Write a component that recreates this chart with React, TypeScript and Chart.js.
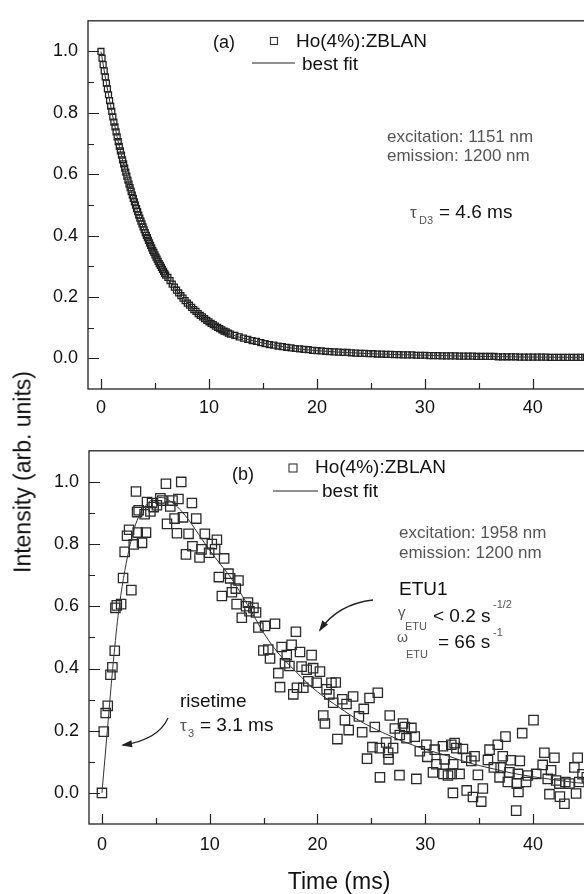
import React, { useEffect, useRef } from "react";
import { Chart, registerables } from "chart.js";

Chart.register(...registerables);

const FONT = "'Liberation Sans', Arial, Helvetica, sans-serif";

// ---------- Panel (a): decay, excitation 1151 nm ----------
const timeA = [
  0, 0.1, 0.2, 0.3, 0.4, 0.5, 0.6, 0.7, 0.8, 0.9, 1.0, 1.1, 1.2, 1.3, 1.4, 1.5, 1.6, 1.7, 1.8, 1.9,
  2.0, 2.1, 2.2, 2.3, 2.4, 2.5, 2.6, 2.7, 2.8, 2.9, 3.0, 3.1, 3.2, 3.3, 3.4, 3.5, 3.6, 3.7, 3.8, 3.9,
  4.0, 4.1, 4.2, 4.3, 4.4, 4.5, 4.6, 4.7, 4.8, 4.9, 5.0, 5.1, 5.2, 5.3, 5.4, 5.5, 5.6, 5.7, 5.8, 5.9,
  6.0, 6.2, 6.4, 6.6, 6.8, 7.0, 7.2, 7.4, 7.6, 7.8, 8.0, 8.2, 8.4, 8.6, 8.8, 9.0, 9.2, 9.4, 9.6, 9.8,
  10.0, 10.2, 10.4, 10.6, 10.8, 11.0, 11.2, 11.4, 11.6, 11.8, 12.0, 12.4, 12.8, 13.2, 13.6, 14.0,
  14.4, 14.8, 15.2, 15.6, 16.0, 16.4, 16.8, 17.2, 17.6, 18.0, 18.4, 18.8, 19.2, 19.6, 20.0, 20.4,
  20.8, 21.2, 21.6, 22.0, 22.4, 22.8, 23.2, 23.6, 24.0, 24.4, 24.8, 25.2, 25.6, 26.0, 26.4, 26.8,
  27.2, 27.6, 28.0, 28.4, 28.8, 29.2, 29.6, 30.0, 30.4, 30.8, 31.2, 31.6, 32.0, 32.4, 32.8, 33.2,
  33.6, 34.0, 34.4, 34.8, 35.2, 35.6, 36.0, 36.4, 36.8, 37.2, 37.6, 38.0, 38.4, 38.8, 39.2, 39.6,
  40.0, 40.4, 40.8, 41.2, 41.6, 42.0, 42.4, 42.8, 43.2, 43.6, 44.0, 44.4, 44.8, 45.2,
];
const intensityA = [
  1.0, 0.978, 0.957, 0.937, 0.917, 0.897, 0.878, 0.859, 0.84, 0.822, 0.805, 0.787, 0.77, 0.754, 0.738, 0.722, 0.706, 0.691, 0.676, 0.662,
  0.647, 0.634, 0.62, 0.607, 0.594, 0.581, 0.568, 0.556, 0.544, 0.532, 0.521, 0.51, 0.499, 0.488, 0.478, 0.467, 0.457, 0.447, 0.438, 0.428,
  0.419, 0.41, 0.401, 0.393, 0.384, 0.376, 0.368, 0.36, 0.352, 0.345, 0.337, 0.33, 0.323, 0.316, 0.309, 0.303, 0.296, 0.29, 0.283, 0.277,
  0.271, 0.264, 0.253, 0.242, 0.232, 0.222, 0.213, 0.204, 0.196, 0.188, 0.18, 0.173, 0.166, 0.159, 0.153, 0.146, 0.14, 0.135, 0.129, 0.124,
  0.119, 0.114, 0.11, 0.105, 0.101, 0.097, 0.093, 0.089, 0.086, 0.082, 0.079, 0.075, 0.07, 0.066, 0.062, 0.058,
  0.055, 0.051, 0.048, 0.045, 0.043, 0.04, 0.038, 0.036, 0.034, 0.032, 0.031, 0.029, 0.028, 0.026, 0.025, 0.024,
  0.023, 0.022, 0.021, 0.02, 0.019, 0.019, 0.018, 0.017, 0.016, 0.016, 0.015, 0.015, 0.014, 0.014, 0.013, 0.013,
  0.012, 0.012, 0.011, 0.011, 0.011, 0.01, 0.01, 0.01, 0.009, 0.009, 0.009, 0.008, 0.008, 0.008, 0.008, 0.007,
  0.007, 0.007, 0.007, 0.006, 0.006, 0.006, 0.006, 0.006, 0.005, 0.005, 0.005, 0.005, 0.005, 0.004, 0.004, 0.004,
  0.004, 0.004, 0.004, 0.004, 0.003, 0.003, 0.003, 0.003, 0.003, 0.003, 0.003, 0.003, 0.003, 0.003,
];
const fitTimeA = [0, 0.5, 1, 1.5, 2, 3, 4, 5, 6, 7, 8, 10, 12, 14, 16, 18, 20, 25, 30, 35, 40, 45.2];
const fitA = [1.0, 0.897, 0.805, 0.722, 0.647, 0.521, 0.419, 0.337, 0.271, 0.222, 0.18, 0.119, 0.079, 0.058, 0.043, 0.032, 0.025, 0.015, 0.01, 0.006, 0.004, 0.003];

// ---------- Panel (b): rise + decay, excitation 1958 nm ----------
const timeB = [
  0.0, 0.17, 0.35, 0.54, 0.79, 0.97, 1.19, 1.25, 1.38, 1.78, 1.96, 2.11, 2.33, 2.52, 2.73, 2.95, 3.16, 3.26, 3.32, 3.41,
  3.72, 3.96, 4.09, 4.18, 4.5, 4.65, 4.8, 5.1, 5.42, 5.6, 5.94, 6.04, 6.34, 6.55, 6.74, 6.96, 7.1, 7.36, 7.52, 7.8,
  8.04, 8.35, 8.4, 8.75, 9.06, 9.24, 9.55, 9.95, 10.2, 10.5, 10.67, 10.85, 11.13, 11.34, 11.74, 11.9, 12.06, 12.42, 12.5, 12.67,
  12.98, 13.38, 13.55, 13.69, 14.06, 14.3, 14.52, 14.98, 15.14, 15.44, 15.6, 16.06, 16.37, 16.53, 16.68, 16.99, 17.15, 17.4, 17.6, 17.76,
  18.0, 18.1, 18.38, 18.53, 18.69, 19.0, 19.15, 19.46, 19.6, 19.93, 20.23, 20.54, 20.69, 20.85, 21.1, 21.3, 21.46, 21.7, 21.85, 22.3,
  22.55, 22.7, 22.9, 23.31, 23.85, 24.15, 24.3, 24.6, 24.83, 25.1, 25.32, 25.6, 25.79, 25.8, 26.38, 26.56, 26.6, 26.71, 27.02, 27.18,
  27.61, 27.64, 27.94, 28.1, 28.26, 28.72, 29.03, 29.18, 29.5, 30.11, 30.2, 30.72, 30.88, 31.04, 31.65, 31.7, 31.8, 32.11, 32.42, 32.45,
  32.57, 32.6, 32.73, 32.89, 33.19, 33.5, 33.81, 33.85, 34.28, 34.43, 34.58, 34.89, 35.2, 35.35, 35.82, 35.97, 36.37, 36.74, 36.9, 37.0,
  37.2, 37.45, 37.67, 37.82, 37.95, 38.44, 38.5, 38.6, 38.65, 38.78, 39.0, 39.36, 39.52, 40.05, 40.3, 40.9, 41.06, 41.37, 41.53, 41.68,
  41.99, 42.15, 42.45, 42.5, 42.92, 43.0, 43.38, 43.84, 44.0, 44.15, 44.3, 44.6, 45.0,
];
const intensityB = [
  0.0, 0.197, 0.257, 0.28, 0.38, 0.404, 0.457, 0.595, 0.603, 0.607, 0.691, 0.775, 0.827, 0.846, 0.652, 0.799, 0.969, 0.903, 0.837, 0.909,
  0.804, 0.896, 0.837, 0.935, 0.905, 0.932, 0.919, 0.925, 0.947, 0.94, 0.994, 0.865, 0.921, 0.94, 0.882, 0.835, 0.945, 1.0, 0.886, 0.767,
  0.833, 0.932, 0.793, 0.882, 0.757, 0.783, 0.833, 0.772, 0.8, 0.783, 0.814, 0.694, 0.633, 0.754, 0.705, 0.69, 0.645, 0.657, 0.607, 0.683,
  0.563, 0.6, 0.612, 0.584, 0.595, 0.58, 0.532, 0.458, 0.537, 0.461, 0.432, 0.544, 0.385, 0.34, 0.469, 0.417, 0.443, 0.408, 0.476, 0.317,
  0.518, 0.338, 0.453, 0.406, 0.338, 0.396, 0.359, 0.443, 0.401, 0.354, 0.39, 0.249, 0.223, 0.333, 0.317, 0.354, 0.29, 0.355, 0.173, 0.301,
  0.234, 0.286, 0.202, 0.31, 0.246, 0.195, 0.27, 0.11, 0.305, 0.147, 0.212, 0.322, 0.144, 0.05, 0.162, 0.129, 0.108, 0.249, 0.144, 0.207,
  0.057, 0.186, 0.223, 0.212, 0.176, 0.209, 0.181, 0.045, 0.134, 0.155, 0.116, 0.066, 0.139, 0.092, 0.15, 0.061, 0.108, 0.056, 0.155, 0.061,
  0.0, 0.092, 0.16, 0.144, 0.061, 0.141, 0.113, 0.008, 0.103, -0.013, 0.118, 0.058, -0.028, 0.014, 0.106, 0.139, 0.082, 0.155, 0.05, 0.082,
  0.118, 0.181, 0.035, 0.066, 0.105, -0.057, 0.03, 0.061, 0.003, 0.103, 0.192, 0.035, 0.056, 0.234, 0.061, 0.09, 0.129, 0.045, -0.004, 0.073,
  0.113, 0.04, 0.03, -0.012, -0.035, 0.035, 0.03, 0.082, -0.002, 0.113, 0.035, 0.06, 0.05,
];
const fitTimeB = [0, 0.5, 1, 1.5, 2, 2.5, 3, 3.5, 4, 4.5, 5, 5.5, 6, 7, 8, 9, 10, 11, 12, 13, 14, 15, 16, 17, 18, 19, 20, 22, 24, 26, 28, 30, 32, 34, 36, 38, 40, 42, 44, 46];
const fitB = [0, 0.2, 0.4, 0.57, 0.69, 0.78, 0.85, 0.895, 0.92, 0.94, 0.948, 0.95, 0.945, 0.92, 0.88, 0.83, 0.78, 0.735, 0.69, 0.635, 0.575, 0.515, 0.465, 0.425, 0.39, 0.355, 0.325, 0.275, 0.23, 0.195, 0.165, 0.14, 0.12, 0.097, 0.08, 0.064, 0.052, 0.042, 0.033, 0.027];

// ---------- Axes ----------
const X_MIN = -1.2;
const X_MAX = 45.2;
const Y_MIN = -0.1;
const Y_MAX = 1.1;
const xTicks = [0, 10, 20, 30, 40];
const xMinorTicks = [5, 15, 25, 35, 45];
const yTicks = [0, 0.2, 0.4, 0.6, 0.8, 1.0];
const yMinorTicks = [0.1, 0.3, 0.5, 0.7, 0.9];

const toPoints = (xs: number[], ys: number[]) => xs.map((x, i) => ({ x, y: ys[i] }));

function text(ctx: CanvasRenderingContext2D, s: string, x: number, y: number, size: number, color = "#111") {
  ctx.font = `${size}px ${FONT}`;
  ctx.fillStyle = color;
  ctx.textAlign = "left";
  ctx.textBaseline = "middle";
  ctx.fillText(s, x, y);
}

function curvedArrow(ctx: CanvasRenderingContext2D, x0: number, y0: number, cx: number, cy: number, x1: number, y1: number) {
  ctx.save();
  ctx.strokeStyle = "#222";
  ctx.fillStyle = "#222";
  ctx.lineWidth = 1.3;
  ctx.beginPath();
  ctx.moveTo(x0, y0);
  ctx.quadraticCurveTo(cx, cy, x1, y1);
  ctx.stroke();
  const ang = Math.atan2(y1 - cy, x1 - cx);
  const len = 9;
  const w = 3.5;
  ctx.beginPath();
  ctx.moveTo(x1 + 2 * Math.cos(ang), y1 + 2 * Math.sin(ang));
  ctx.lineTo(x1 - len * Math.cos(ang) + w * Math.sin(ang), y1 - len * Math.sin(ang) - w * Math.cos(ang));
  ctx.lineTo(x1 - len * Math.cos(ang) - w * Math.sin(ang), y1 - len * Math.sin(ang) + w * Math.cos(ang));
  ctx.closePath();
  ctx.fill();
  ctx.restore();
}

const framePlugin = {
  id: "frameTicks",
  afterDraw(chart: any) {
    const { ctx, chartArea } = chart;
    const { left, right, top, bottom } = chartArea;
    const xs = chart.scales.x;
    const ys = chart.scales.y;
    ctx.save();
    ctx.strokeStyle = "#222";
    ctx.lineWidth = 1.3;
    ctx.strokeRect(left, top, right - left, bottom - top);
    ctx.lineWidth = 1.2;
    ctx.beginPath();
    for (const v of xTicks) {
      const p = Math.round(xs.getPixelForValue(v)) + 0.5;
      ctx.moveTo(p, bottom);
      ctx.lineTo(p, bottom - 10);
    }
    for (const v of xMinorTicks) {
      const p = Math.round(xs.getPixelForValue(v)) + 0.5;
      ctx.moveTo(p, bottom);
      ctx.lineTo(p, bottom - 6);
    }
    for (const v of yTicks) {
      const p = Math.round(ys.getPixelForValue(v)) + 0.5;
      ctx.moveTo(left, p);
      ctx.lineTo(left + 11, p);
    }
    for (const v of yMinorTicks) {
      const p = Math.round(ys.getPixelForValue(v)) + 0.5;
      ctx.moveTo(left, p);
      ctx.lineTo(left + 6, p);
    }
    ctx.stroke();
    ctx.restore();
  },
};

function legendSquare(ctx: CanvasRenderingContext2D, cx: number, cy: number, side: number) {
  ctx.save();
  ctx.strokeStyle = "#333";
  ctx.lineWidth = 1.1;
  ctx.strokeRect(cx - side / 2, cy - side / 2, side, side);
  ctx.restore();
}

function hLine(ctx: CanvasRenderingContext2D, x0: number, x1: number, y: number) {
  ctx.save();
  ctx.strokeStyle = "#222";
  ctx.lineWidth = 1.2;
  ctx.beginPath();
  ctx.moveTo(x0, y);
  ctx.lineTo(x1, y);
  ctx.stroke();
  ctx.restore();
}

const annotA = {
  id: "annotA",
  afterDraw(chart: any) {
    const ctx = chart.ctx as CanvasRenderingContext2D;
    ctx.save();
    text(ctx, "(a)", 213, 43, 18);
    legendSquare(ctx, 274, 41, 7);
    text(ctx, "Ho(4%):ZBLAN", 296, 42, 19);
    hLine(ctx, 252, 295, 63);
    text(ctx, "best fit", 302, 65, 19);
    text(ctx, "excitation: 1151 nm", 387, 137, 17, "#555");
    text(ctx, "emission: 1200 nm", 387, 156, 17, "#555");
    text(ctx, "τ", 410, 213, 17, "#555");
    text(ctx, "D3", 419, 221, 11, "#555");
    text(ctx, "= 4.6 ms", 439, 213, 19);
    ctx.restore();
  },
};

const B_TOP = 430;
const annotB = {
  id: "annotB",
  afterDraw(chart: any) {
    const ctx = chart.ctx as CanvasRenderingContext2D;
    const o = B_TOP;
    ctx.save();
    text(ctx, "(b)", 232, 475 - o, 18);
    legendSquare(ctx, 293, 468 - o, 8);
    text(ctx, "Ho(4%):ZBLAN", 315, 468 - o, 19);
    hLine(ctx, 273, 318, 491 - o);
    text(ctx, "best fit", 322, 492 - o, 19);
    text(ctx, "excitation: 1958 nm", 399, 533 - o, 17, "#555");
    text(ctx, "emission: 1200 nm", 399, 553 - o, 17, "#555");
    text(ctx, "ETU1", 399, 590 - o, 19);
    text(ctx, "γ", 398, 613 - o, 15, "#555");
    text(ctx, "ETU", 405, 627 - o, 11, "#555");
    text(ctx, "< 0.2 s", 433, 617 - o, 19);
    text(ctx, "-1/2", 493, 605 - o, 11, "#555");
    text(ctx, "ω", 397, 638 - o, 14, "#555");
    text(ctx, "ETU", 406, 655 - o, 11, "#555");
    text(ctx, "= 66 s", 438, 643 - o, 19);
    text(ctx, "-1", 493, 633 - o, 11, "#555");
    curvedArrow(ctx, 373, 600 - o, 338, 604 - o, 320, 630 - o);
    text(ctx, "risetime", 180, 702 - o, 19);
    text(ctx, "τ", 180, 726 - o, 17, "#555");
    text(ctx, "3", 188, 734 - o, 11, "#555");
    text(ctx, "= 3.1 ms", 200, 726 - o, 19);
    curvedArrow(ctx, 168, 718 - o, 158, 740 - o, 123, 745 - o);
    ctx.restore();
  },
};

function makeConfig(opts: {
  data: { x: number; y: number }[];
  fit: { x: number; y: number }[];
  pointRadius: number;
  pointBorder: number;
  pointColor: string;
  padTop: number;
  yWidth: number;
  xHeight: number;
  tickPad: number;
  showXTitle: boolean;
  annot: any;
}): any {
  return {
    type: "scatter",
    data: {
      datasets: [
        {
          data: opts.data,
          pointStyle: "rect",
          pointRadius: opts.pointRadius,
          pointBorderWidth: opts.pointBorder,
          borderColor: opts.pointColor,
          backgroundColor: "rgba(0,0,0,0)",
          pointBackgroundColor: "rgba(0,0,0,0)",
          pointBorderColor: opts.pointColor,
          showLine: false,
          order: 2,
        },
        {
          data: opts.fit,
          showLine: true,
          pointRadius: 0,
          borderColor: "#333",
          borderWidth: 1,
          cubicInterpolationMode: "monotone",
          fill: false,
          order: 1,
        },
      ],
    },
    options: {
      responsive: false,
      maintainAspectRatio: false,
      animation: false,
      devicePixelRatio: 1,
      events: [],
      layout: { padding: { top: opts.padTop, right: 11, left: 0, bottom: 0 } },
      plugins: { legend: { display: false }, tooltip: { enabled: false } },
      scales: {
        x: {
          type: "linear",
          min: X_MIN,
          max: X_MAX,
          afterBuildTicks: (s: any) => {
            s.ticks = xTicks.map((v) => ({ value: v }));
          },
          afterFit: (s: any) => {
            s.height = opts.xHeight;
          },
          grid: { display: false, drawTicks: false },
          border: { display: false },
          ticks: {
            font: { family: FONT, size: 18, lineHeight: 1.2 },
            color: "#111",
            padding: opts.tickPad,
            maxRotation: 0,
            autoSkip: false,
            callback: (v: any) => String(v),
          },
          title: {
            display: opts.showXTitle,
            text: "Time (ms)",
            font: { family: FONT, size: 23, lineHeight: 1 },
            color: "#111",
            padding: { top: 0, bottom: 0 },
          },
        },
        y: {
          type: "linear",
          min: Y_MIN,
          max: Y_MAX,
          afterBuildTicks: (s: any) => {
            s.ticks = yTicks.map((v) => ({ value: v }));
          },
          afterFit: (s: any) => {
            s.width = opts.yWidth;
          },
          grid: { display: false, drawTicks: false },
          border: { display: false },
          ticks: {
            font: { family: FONT, size: 18, lineHeight: 1.2 },
            color: "#111",
            padding: 10,
            autoSkip: false,
            callback: (v: any) => Number(v).toFixed(1),
          },
        },
      },
    },
    plugins: [framePlugin, opts.annot],
  };
}

export default function App() {
  const refA = useRef<HTMLCanvasElement>(null);
  const refB = useRef<HTMLCanvasElement>(null);

  useEffect(() => {
    const a = new Chart(
      refA.current!,
      makeConfig({
        data: toPoints(timeA, intensityA),
        fit: toPoints(fitTimeA, fitA),
        pointRadius: 4.2,
        pointBorder: 1.3,
        pointColor: "#222",
        padTop: 6,
        yWidth: 88,
        xHeight: 31,
        tickPad: 8,
        showXTitle: false,
        annot: annotA,
      })
    );
    const b = new Chart(
      refB.current!,
      makeConfig({
        data: toPoints(timeB, intensityB),
        fit: toPoints(fitTimeB, fitB),
        pointRadius: 6.6,
        pointBorder: 1.3,
        pointColor: "#2a2a2a",
        padTop: 12,
        yWidth: 89,
        xHeight: 70,
        tickPad: 10,
        showXTitle: true,
        annot: annotB,
      })
    );
    return () => {
      a.destroy();
      b.destroy();
    };
  }, []);

  return (
    <div style={{ position: "absolute", left: 0, top: 0, width: 584, height: 894, overflow: "hidden", background: "#fff" }}>
      <canvas ref={refA} width={600} height={420} style={{ position: "absolute", left: 0, top: 0, width: 600, height: 420 }} />
      <canvas ref={refB} width={600} height={464} style={{ position: "absolute", left: 0, top: B_TOP, width: 600, height: 464 }} />
      <div
        style={{
          position: "absolute",
          left: 23,
          top: 472,
          transform: "translate(-50%, -50%) rotate(-90deg)",
          font: `23px ${FONT}`,
          lineHeight: "1",
          whiteSpace: "nowrap",
          color: "#111",
        }}
      >
        Intensity (arb. units)
      </div>
    </div>
  );
}
